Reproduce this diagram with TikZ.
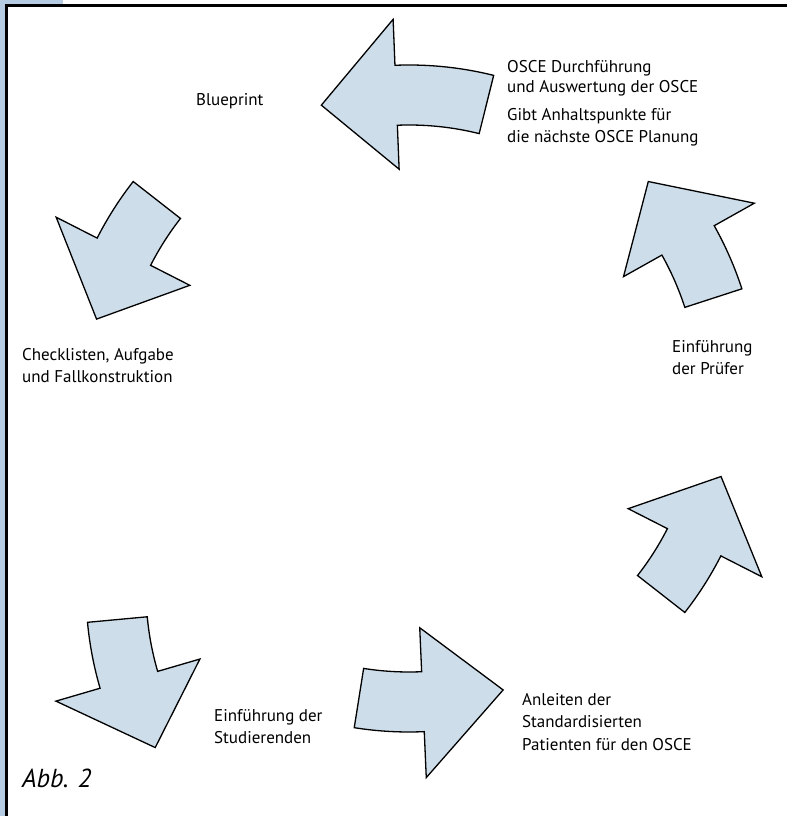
\documentclass[tikz,border=0pt]{standalone}
\usepackage{fontspec}
\setmainfont{PT Sans}
\usetikzlibrary{positioning}
\definecolor{arrowblue}{RGB}{205,221,234}
\definecolor{frameblue}{RGB}{181,204,226}
\tikzset{
  cyclearrow/.style={draw=black, line width=1.3pt, fill=arrowblue},
  steplabel/.style={anchor=north west, inner sep=0pt, align=left, font=\fontsize{17}{22}\selectfont},
}
\begin{document}
\begin{tikzpicture}[x=1pt,y=1pt]
  \useasboundingbox (0,0) rectangle (787,816);
  \fill[white] (0,0) rectangle (787,816);
  % frame
  \fill[frameblue] (0,0) rectangle (5,816);
  \fill[frameblue] (0,812) rectangle (63,816);
  \draw[line width=3pt] (6.5,0) -- (6.5,810.5) -- (787,810.5);
  % arrows: centre x/centre y/tail/base/tip
  \foreach \cx/\cy/\t/\b/\p in {409/401/76/92.3/105.8, 409/419/142/153/166, 436/226/185.3/196.3/209.3,
                                409/434/261/272.5/287, 409/419/322/333/345.7, 409/419/18/29.3/42}
    {\draw[cyclearrow, shift={(\cx,\cy)}] (\t:350) arc[start angle=\t, end angle=\b, radius=350]
        -- (\b:396) -- (\p:322) -- (\b:246) -- (\b:290) arc[start angle=\b, end angle=\t, radius=290] -- cycle;}
  % labels
  \node[steplabel] (blueprint) at (196,723) {Blueprint};
  \node[steplabel, font=\fontsize{17}{20.5}\selectfont] (osce) at (507,756) {OSCE Durchführung\\und Auswertung der OSCE};
  \node[steplabel] (hints) at (507,708) {Gibt Anhaltspunkte für\\die nächste OSCE Planung};
  \node[steplabel] (checklist) at (22,468) {Checklisten, Aufgabe\\und Fallkonstruktion};
  \node[steplabel] (examiners) at (672,476) {Einführung\\der Prüfer};
  \node[steplabel] (students) at (214,107) {Einführung der\\Studierenden};
  \node[steplabel, font=\fontsize{17}{22.5}\selectfont] (patients) at (522,123) {Anleiten der\\Standardisierten\\Patienten für den OSCE};
  \node[anchor=base west, inner sep=0pt, font=\fontsize{26}{30}\selectfont\itshape] (caption) at (22,28) {Abb. 2};
\end{tikzpicture}
\end{document}
